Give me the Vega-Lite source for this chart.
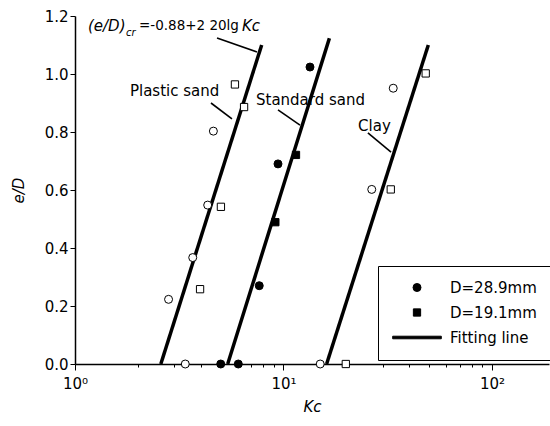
{
  "$schema": "https://vega.github.io/schema/vega-lite/v6.json",
  "width": 474,
  "height": 348,
  "autosize": {"type": "none"},
  "padding": {"left": 75, "top": 16, "right": 1, "bottom": 62},
  "background": "white",
  "config": {
    "view": {"stroke": null},
    "font": "DejaVu Sans",
    "axis": {
      "grid": false,
      "domainColor": "black",
      "domainWidth": 1.5,
      "tickColor": "black",
      "tickWidth": 1,
      "labelColor": "black",
      "labelFont": "DejaVu Sans",
      "labelFontSize": 15,
      "titleFont": "DejaVu Sans",
      "titleFontSize": 15,
      "titleFontStyle": "italic",
      "titleFontWeight": "normal",
      "titleColor": "black",
      "labelOverlap": false,
      "labelFlush": false
    },
    "legend": {
      "orient": "none",
      "legendX": 303,
      "legendY": 250,
      "strokeColor": "black",
      "padding": 14,
      "rowPadding": 9,
      "symbolOffset": 17.5,
      "labelFont": "DejaVu Sans",
      "labelFontSize": 15,
      "labelColor": "black",
      "labelOffset": 25.5,
      "symbolBaseFillColor": "black",
      "symbolBaseStrokeColor": "black",
      "symbolFillColor": "black",
      "symbolStrokeColor": "black",
      "symbolOpacity": 1
    }
  },
  "layer": [
    {
      "data": {"values": [
        {"soil": "Plastic sand", "Kc": 2.58, "e": 0},
        {"soil": "Plastic sand", "Kc": 7.86, "e": 1.1},
        {"soil": "Standard sand", "Kc": 5.4, "e": 0},
        {"soil": "Standard sand", "Kc": 16.6, "e": 1.123},
        {"soil": "Clay", "Kc": 16.1, "e": 0},
        {"soil": "Clay", "Kc": 49.5, "e": 1.1}
      ]},
      "mark": {"type": "line", "color": "black", "strokeWidth": 3.5},
      "encoding": {
        "x": {"field": "Kc", "type": "quantitative",
          "scale": {"type": "log", "domain": [1, 187.7], "nice": false},
          "axis": {
            "title": "Kc",
            "values": [1, 2, 3, 4, 5, 6, 7, 8, 9, 10, 20, 30, 40, 50, 60, 70, 80, 90, 100],
            "labelExpr": "datum.value == 1 ? '10⁰' : datum.value == 10 ? '10¹' : datum.value == 100 ? '10²' : ''",
            "tickSize": {"condition": {"test": "datum.value == 1 || datum.value == 10 || datum.value == 100", "value": 6}, "value": 3},
            "labelPadding": 6,
            "titlePadding": 8
          }},
        "y": {"field": "e", "type": "quantitative",
          "scale": {"domain": [0, 1.2], "nice": false},
          "axis": {
            "title": "e/D",
            "values": [0, 0.1, 0.2, 0.3, 0.4, 0.5, 0.6, 0.7, 0.8, 0.9, 1.0, 1.1, 1.2],
            "labelExpr": "round(datum.value * 10) % 2 == 0 ? format(datum.value, '.1f') : ''",
            "tickSize": {"condition": {"test": "round(datum.value * 10) % 2 == 0", "value": 5}, "value": 3},
            "labelPadding": 2,
            "titlePadding": 18
          }},
        "detail": {"field": "soil"}
      }
    },
    {
      "data": {"values": [
        {"Kc": 4.8, "e": 1.124, "Kc2": 7.46, "e2": 1.076},
        {"Kc": 4.49, "e": 0.9, "Kc2": 5.66, "e2": 0.845},
        {"Kc": 9.41, "e": 0.876, "Kc2": 12.0, "e2": 0.824},
        {"Kc": 25.4, "e": 0.797, "Kc2": 32.8, "e2": 0.731}
      ]},
      "mark": {"type": "rule", "color": "black", "strokeWidth": 1.6},
      "encoding": {
        "x": {"field": "Kc", "type": "quantitative"},
        "x2": {"field": "Kc2"},
        "y": {"field": "e", "type": "quantitative"},
        "y2": {"field": "e2"}
      }
    },
    {
      "data": {"values": [
        {"label": "Plastic sand", "Kc": 1.835, "e": 0.941},
        {"label": "Standard sand", "Kc": 7.38, "e": 0.91},
        {"label": "Clay", "Kc": 22.8, "e": 0.82}
      ]},
      "mark": {"type": "text", "align": "left", "baseline": "middle", "font": "DejaVu Sans", "fontSize": 15, "color": "black"},
      "encoding": {
        "x": {"field": "Kc", "type": "quantitative"},
        "y": {"field": "e", "type": "quantitative"},
        "text": {"field": "label"}
      }
    },
    {
      "data": {"values": [
        {"label": "=-0.88+2 20lg", "Kc": 2.027, "e": 1.1655}
      ]},
      "mark": {"type": "text", "align": "left", "baseline": "middle", "font": "DejaVu Sans", "fontSize": 13.5, "color": "black"},
      "encoding": {
        "x": {"field": "Kc", "type": "quantitative"},
        "y": {"field": "e", "type": "quantitative"},
        "text": {"field": "label"}
      }
    },
    {
      "data": {"values": [
        {"label": "(e/D)", "Kc": 1.154, "e": 1.1655},
        {"label": "Kc", "Kc": 6.32, "e": 1.1655}
      ]},
      "mark": {"type": "text", "align": "left", "baseline": "middle", "font": "DejaVu Sans", "fontSize": 15, "fontStyle": "italic", "color": "black"},
      "encoding": {
        "x": {"field": "Kc", "type": "quantitative"},
        "y": {"field": "e", "type": "quantitative"},
        "text": {"field": "label"}
      }
    },
    {
      "data": {"values": [
        {"label": "cr", "Kc": 1.757, "e": 1.141}
      ]},
      "mark": {"type": "text", "align": "left", "baseline": "middle", "font": "DejaVu Sans", "fontSize": 10, "fontStyle": "italic", "color": "black"},
      "encoding": {
        "x": {"field": "Kc", "type": "quantitative"},
        "y": {"field": "e", "type": "quantitative"},
        "text": {"field": "label"}
      }
    },
    {
      "data": {"values": [
        {"Kc": 4.61, "e": 0.803, "D": "D=28.9mm", "style": "open"},
        {"Kc": 5.85, "e": 0.964, "D": "D=19.1mm", "style": "open"},
        {"Kc": 6.47, "e": 0.886, "D": "D=19.1mm", "style": "open"},
        {"Kc": 4.33, "e": 0.548, "D": "D=28.9mm", "style": "open"},
        {"Kc": 5.01, "e": 0.542, "D": "D=19.1mm", "style": "open"},
        {"Kc": 3.67, "e": 0.367, "D": "D=28.9mm", "style": "open"},
        {"Kc": 3.98, "e": 0.258, "D": "D=19.1mm", "style": "open"},
        {"Kc": 2.81, "e": 0.223, "D": "D=28.9mm", "style": "open"},
        {"Kc": 3.38, "e": 0, "D": "D=28.9mm", "style": "open"},
        {"Kc": 5.0, "e": 0, "D": "D=28.9mm", "style": "filled"},
        {"Kc": 6.07, "e": 0, "D": "D=28.9mm", "style": "filled"},
        {"Kc": 7.65, "e": 0.27, "D": "D=28.9mm", "style": "filled"},
        {"Kc": 9.14, "e": 0.489, "D": "D=19.1mm", "style": "filled"},
        {"Kc": 9.41, "e": 0.69, "D": "D=28.9mm", "style": "filled"},
        {"Kc": 11.48, "e": 0.721, "D": "D=19.1mm", "style": "filled"},
        {"Kc": 13.4, "e": 1.024, "D": "D=28.9mm", "style": "filled"},
        {"Kc": 15.0, "e": 0, "D": "D=28.9mm", "style": "open"},
        {"Kc": 19.9, "e": 0, "D": "D=19.1mm", "style": "open"},
        {"Kc": 26.5, "e": 0.602, "D": "D=28.9mm", "style": "open"},
        {"Kc": 32.7, "e": 0.602, "D": "D=19.1mm", "style": "open"},
        {"Kc": 33.6, "e": 0.951, "D": "D=28.9mm", "style": "open"},
        {"Kc": 48.1, "e": 1.002, "D": "D=19.1mm", "style": "open"}
      ]},
      "mark": {"type": "point", "filled": false, "stroke": "black", "opacity": 1},
      "encoding": {
        "x": {"field": "Kc", "type": "quantitative"},
        "y": {"field": "e", "type": "quantitative"},
        "shape": {"field": "D", "type": "nominal",
          "scale": {"domain": ["D=28.9mm", "D=19.1mm", "Fitting line"], "range": ["circle", "square", "M-7.5,-0.4L7.5,-0.4L7.5,0.4L-7.5,0.4Z"]},
          "legend": {"title": null}},
        "size": {"field": "D", "type": "nominal",
          "scale": {"domain": ["D=28.9mm", "D=19.1mm", "Fitting line"], "range": [64, 42, 64]},
          "legend": {"title": null}},
        "strokeWidth": {"field": "D", "type": "nominal",
          "scale": {"domain": ["D=28.9mm", "D=19.1mm", "Fitting line"], "range": [1, 1, 1]},
          "legend": {"title": null}},
        "fill": {"field": "style", "type": "nominal",
          "scale": {"domain": ["open", "filled"], "range": ["white", "black"]},
          "legend": null}
      }
    }
  ]
}
